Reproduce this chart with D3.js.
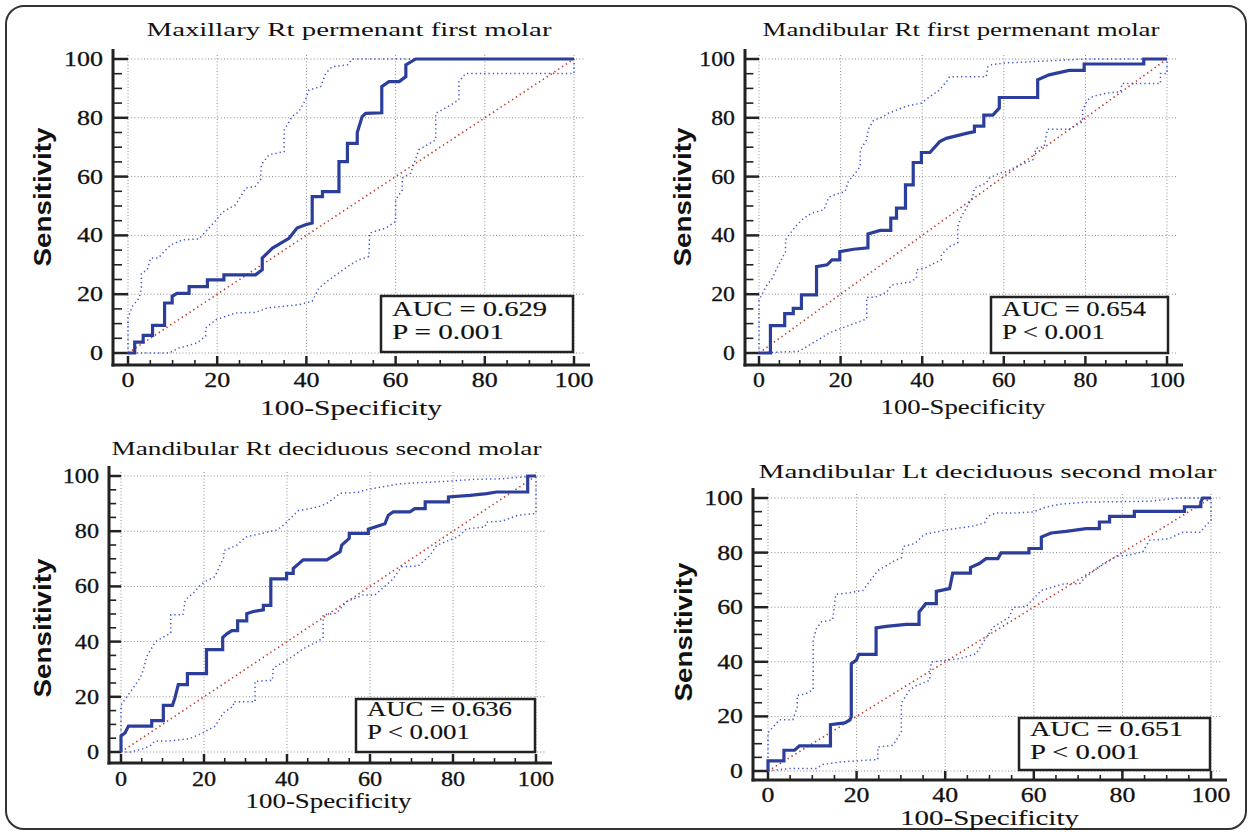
<!DOCTYPE html>
<html>
<head>
<meta charset="utf-8">
<script src="https://cdn.jsdelivr.net/npm/d3@7"></script>
<style>body{margin:0;background:#fff}</style>
</head>
<body>
<svg id="fig" width="1249" height="832"></svg>
<script>
// values (x = 100-Specificity, y = Sensitivity)
const ticks = [0, 20, 40, 60, 80, 100];
const titles = [
  "Maxillary Rt permenant first molar",
  "Mandibular Rt first permenant molar",
  "Mandibular Rt deciduous second molar",
  "Mandibular Lt deciduous second molar"
];
const aucLabels = ["AUC = 0.629", "AUC = 0.654", "AUC = 0.636", "AUC = 0.651"];
const pLabels = ["P = 0.001", "P < 0.001", "P < 0.001", "P < 0.001"];

const roc1 = [[0,0],[1.5,0],[1.5,3.7],[3.4,3.7],[3.4,6],[5.5,6],[5.5,9.4],[8.2,9.4],[8.2,17],[9.9,17],[9.9,19.3],[11,20.3],[13.7,20.3],[13.7,22.6],[17.8,22.6],[17.8,24.9],[21.5,24.9],[21.5,26.6],[28.6,26.6],[30.1,28.3],[30.1,32.3],[32.4,35.7],[36.1,39],[37.9,42.5],[39.8,43.6],[41.3,44.2],[41.3,53.2],[43.6,53.2],[43.6,54.9],[47.3,54.9],[47.3,65.1],[49.2,65.1],[49.2,71.3],[51.4,71.3],[51.4,75],[52.5,80.4],[53.3,81.5],[56.9,81.7],[56.9,90.6],[58.5,92.3],[60.8,92.3],[62.3,94],[62.3,98],[64.5,100],[100,100]];
const upper1 = [[0,0],[0,12],[1,15.9],[2.5,18.7],[3,22],[3,27],[4.3,28.3],[5.1,32.3],[6.8,32.3],[8.1,34.5],[9.6,36.8],[12.2,38.5],[15.9,38.8],[19.3,44.4],[21.2,47.9],[24.1,50.4],[26.4,56.1],[28.5,56.6],[29.7,58.9],[29.9,64],[31.6,67.4],[35,68.5],[35,75.8],[36.8,80.4],[38.3,82.1],[39.8,86.1],[40.6,89.5],[43.2,90.6],[44.3,95.1],[45.8,97.4],[49.2,98],[50.3,100],[100,100]];
const lower1 = [[0,0],[9.2,0],[11.4,1.7],[15.5,3.4],[17.4,5.7],[17.4,8.5],[19.7,11.3],[24.1,13.6],[28.6,13.8],[31.2,15.3],[38.3,16.4],[41.3,17.6],[42.8,22.1],[45.1,24.9],[48.8,28.9],[51.4,31.5],[54,32.8],[54.2,40.8],[57.8,42.5],[60,44.7],[60,52.1],[61.5,55.5],[61.5,59.5],[63.4,61.2],[65.2,69.1],[67.1,70.8],[69,72.5],[69,81.5],[72.4,84.4],[74.2,86.1],[74.2,92.3],[75.7,95.1],[100,95.1],[100,100]];

const roc2 = [[0,0],[2.8,0],[2.8,9.3],[6.3,9.3],[6.3,13.4],[8.4,13.4],[8.4,15.2],[10.4,15.2],[10.4,19.8],[14.1,19.8],[14.1,29.4],[16.7,30],[17.9,31.7],[19.8,31.7],[19.8,34.5],[23.2,35.3],[26.7,35.8],[26.7,40.5],[29.7,41.7],[32.3,41.7],[32.3,45.9],[33.7,45.9],[33.7,49.3],[35.9,49.3],[35.9,57.2],[37.8,57.2],[37.8,64.8],[39.8,64.8],[39.8,68.2],[41.9,68.2],[44.3,71.9],[45.9,73],[50.8,74.7],[52.8,75.3],[52.8,77.2],[55.1,77.2],[55.1,80.9],[57.3,80.9],[58.9,83.3],[58.9,86.9],[68.3,86.9],[68.3,92.9],[71.1,94.6],[76,96.1],[79.7,96.1],[79.7,98.3],[94.3,98.3],[94.3,100],[100,100]];
const upper2 = [[0,0],[0,18],[2,23.2],[3.3,25.5],[4.2,28.3],[6.5,34.5],[6.5,38.5],[8.9,43],[11,45.9],[13,47.6],[15.9,48.7],[17.1,53],[19.1,54.1],[21.1,54.9],[21.9,58.3],[23.6,61.2],[24.8,63.4],[24.8,69.1],[26.4,72.5],[26.8,76.1],[28.1,79.2],[30.5,80.4],[31.3,81.3],[36.2,84],[39.8,85],[41.9,87.2],[44.3,89.5],[46.3,92.9],[46.7,94],[55.7,94],[56.1,97.4],[56.9,98],[59.8,98.6],[80,100],[100,100]];
const lower2 = [[0,0],[9.8,0.6],[17.5,7],[26.4,11.6],[26.4,19],[28.5,19],[31.3,20.7],[32.5,23.2],[37,24.1],[38.6,25.5],[38.6,28.3],[40.6,28.9],[44.7,31.7],[44.7,33.4],[46.7,36.2],[48.7,37.4],[48.7,43],[49.6,46.4],[50.8,49.3],[52.4,53.2],[52.8,56.1],[55.7,57.8],[56.5,59.5],[59,61.2],[61,61.8],[63,63.4],[67.1,65.7],[67.9,69.6],[69.9,70.2],[70.7,76.1],[76,76.1],[79.3,78.7],[79.3,82.6],[80.5,86.1],[82.1,87.4],[84.9,88.3],[88.6,88.9],[89,91.7],[98.4,91.7],[98.4,95.1],[100,95.1],[100,100]];

const roc3 = [[0,0],[0,5.8],[1,7],[1.8,9.4],[7.4,9.4],[7.4,11.4],[10.2,11.4],[10.2,16.9],[12.4,16.9],[13,19.6],[13.8,24.4],[16,24.4],[16,28.4],[20.6,28.4],[20.6,37.1],[24.5,37.1],[24.5,41.5],[25.5,42.8],[26.7,44],[28.1,44],[28.1,47.5],[30.3,47.5],[30.3,50.1],[31.9,50.9],[34.3,51.5],[34.3,53.1],[36.1,53.1],[36.1,62.7],[39.9,62.7],[39.9,64.7],[41.5,64.7],[41.5,66.5],[43.9,69.6],[49.6,69.6],[52.8,72.6],[53.2,75],[55,77.4],[55,79.2],[59.6,79.2],[59.6,80.7],[63.6,82.7],[64.4,85.8],[65.6,87],[69.6,87],[70.8,88.2],[73.3,88.2],[73.3,90.6],[78.9,90.6],[78.9,92.4],[84.1,93],[88.1,93.6],[90.5,94.2],[98,94.2],[98,100],[100,100]];
const upper3 = [[0,0],[0,17],[4.6,26.8],[5.4,29.8],[6.2,34.7],[8.4,40.1],[12,43.1],[12,49.7],[14.9,49.7],[15.5,55.1],[17.8,58.1],[19,60.2],[20.2,61.7],[22.6,63.5],[24.8,70.6],[24.8,73],[27.9,74.9],[30,77.9],[37.5,80.4],[38.7,81.6],[42.7,87.4],[47.5,88.8],[49.9,90.3],[52.8,93.7],[57.6,94.2],[58.4,94.8],[67.2,97.2],[78.5,98.1],[85.3,98.8],[91.7,99],[100,100]];
const lower3 = [[0,0],[2.2,0],[5,1],[7,2.2],[8.2,4],[11.4,4],[16.5,4.8],[19.8,7],[22.7,9.4],[24.7,14.2],[27.1,16.6],[27.1,18.2],[32.3,18.2],[32.3,25.6],[36.5,26],[36.7,30.4],[40.7,34],[44.3,37.7],[46.7,39.5],[48.7,41.3],[48.7,49.7],[51.9,50.3],[54.4,54.5],[58.4,56.9],[61.2,56.9],[65.5,62.6],[67.6,67.1],[71.6,67.4],[74.5,71.3],[76.1,74.9],[81.3,78.1],[83.3,80.9],[87.7,81.5],[88.1,83.3],[91.7,83.6],[95.7,85.8],[100,86.4],[100,100]];

const roc4 = [[0,0],[0,3.7],[3.6,3.7],[3.6,7.6],[6,7.6],[7.1,9.2],[14.1,9.2],[14.1,17],[17.3,17.6],[18.4,18.6],[18.8,19.8],[18.8,39.3],[19.9,40.5],[20.5,42.7],[24.4,42.7],[24.4,52.4],[26.7,53],[31.2,53.7],[34.1,53.7],[34.1,58.2],[35.6,61.3],[38,61.3],[38,65.8],[41,66.8],[41.7,72.5],[45.7,72.5],[45.7,74.5],[47.7,76],[49.2,77.8],[51.9,77.8],[52.6,79.9],[58.9,79.9],[58.9,81.5],[61.7,81.5],[61.7,85.7],[63.9,87.2],[67.3,87.8],[71.8,88.8],[74.8,88.8],[74.8,91.2],[77.1,91.2],[77.1,93.3],[82.7,93.3],[82.7,95.1],[94,95.1],[94,96.8],[97.7,96.8],[97.7,98.5],[98.1,100],[100,100]];
const upper4 = [[0,0],[0,14],[0.8,15.5],[2.6,18.8],[5.6,18.8],[6.6,23.2],[6.6,27.7],[8.6,28.3],[10.2,29.8],[10.2,47.9],[10.9,52.1],[12,54.6],[14.6,55.4],[15.3,64.7],[18.1,65.2],[21.4,66.1],[24.8,73.4],[28.3,76.8],[30.1,78.1],[30.5,82.3],[33.1,83.3],[35.3,86.7],[38,87.5],[39.8,88.2],[46.2,89.7],[48.9,90.9],[49.6,93.3],[51.5,94.5],[55.3,94.5],[59.8,94.9],[62.8,96.7],[65.8,97.7],[71.8,98.5],[86.1,98.8],[92.5,100],[100,100]];
const lower4 = [[0,0],[0.8,0.2],[4.9,0.9],[10.9,0.9],[12.4,2.4],[16.2,3.3],[24.8,4.2],[24.8,8.8],[28.2,9.4],[30.1,14.3],[30.1,24.9],[31.9,29.5],[33.1,31],[36.5,33.2],[36.8,39.9],[39.5,40.5],[43.2,41.1],[47,43],[50.8,52.7],[54.5,56.4],[55.3,59.9],[58.3,60.3],[61.7,66.2],[63.9,67.2],[66.9,68.6],[70.3,68.6],[71.8,71.1],[75.6,75.9],[78.6,78.6],[81.2,79],[84.6,80.3],[86.1,84.5],[90.6,85.1],[93.6,87.5],[97.7,87.5],[98.5,89.4],[100,91.8],[100,100]];

const rocs = [roc1, roc2, roc3, roc4];
const uppers = [upper1, upper2, upper3, upper4];
const lowers = [lower1, lower2, lower3, lower4];

// pixel layout of each panel
const layouts = [
  {x0: 128, x1: 574, y0: 353, y1: 59, axX: 113, axY: 365, titleY: 36, titleW: 405, xlabY: 415, xlabW: 182, sensX: 51, sensY: 197, box: [381, 296, 573, 352], aucY: [316, 339], aucW: [155, 112], tickY: 387, fs: 20},
  {x0: 759, x1: 1167, y0: 353, y1: 59, axX: 745, axY: 365, titleY: 36, titleW: 397, xlabY: 414, xlabW: 165, sensX: 691, sensY: 197, box: [991, 297, 1168, 353], aucY: [316, 339], aucW: [144, 103], tickY: 387, fs: 19},
  {x0: 121, x1: 536, y0: 752, y1: 476, axX: 109, axY: 763, titleY: 455, titleW: 430, xlabY: 808, xlabW: 166, sensX: 51, sensY: 628, box: [356, 699, 535, 752], aucY: [716, 739], aucW: [145, 103], tickY: 786, fs: 19},
  {x0: 768, x1: 1211, y0: 771, y1: 498, axX: 753, axY: 780, titleY: 478, titleW: 458, xlabY: 825, xlabW: 179, sensX: 692, sensY: 632, box: [1019, 718, 1210, 770], aucY: [736, 759], aucW: [153, 110], tickY: 802, fs: 20}
];

const serif = "'Liberation Serif','Times New Roman',serif";
const svg = d3.select("#fig");

svg.append("rect")
    .attr("x", 6).attr("y", 6)
    .attr("width", 1240).attr("height", 823)
    .attr("rx", 18)
    .attr("fill", "none")
    .attr("stroke", "#333")
    .attr("stroke-width", 2);

function stext(g, x, y, s, size, anchor, len, weight) {
  const t = g.append("text")
      .attr("x", x).attr("y", y)
      .attr("font-family", serif)
      .attr("font-size", size)
      .attr("text-anchor", anchor)
      .attr("fill", "#111")
      .text(s);
  if (weight) t.attr("stroke", "#111").attr("stroke-width", weight);
  if (len) t.attr("textLength", len).attr("lengthAdjust", "spacingAndGlyphs");
  return t;
}

layouts.forEach((L, i) => {
  const g = svg.append("g");
  const x = d3.scaleLinear().domain([0, 100]).range([L.x0, L.x1]);
  const y = d3.scaleLinear().domain([0, 100]).range([L.y0, L.y1]);
  const k = (L.x1 - L.x0) / 446;
  const minor = d3.range(0, 101, 5);

  // dotted grid
  g.selectAll(".gx").data(ticks).join("line")
      .attr("x1", d => x(d)).attr("x2", d => x(d))
      .attr("y1", L.y1 - 4).attr("y2", L.y0 + 4)
      .attr("stroke", "#8c8c8c").attr("stroke-width", 1).attr("stroke-dasharray", "1,2.2");
  g.selectAll(".gy").data(ticks).join("line")
      .attr("y1", d => y(d)).attr("y2", d => y(d))
      .attr("x1", L.x0).attr("x2", L.x1 + 10)
      .attr("stroke", "#8c8c8c").attr("stroke-width", 1).attr("stroke-dasharray", "1,2.2");

  // axes
  g.append("line").attr("x1", L.axX).attr("x2", L.axX).attr("y1", L.axY + 1.5).attr("y2", L.y1 - 10)
      .attr("stroke", "#222").attr("stroke-width", 3);
  g.append("line").attr("x1", L.axX - 1.5).attr("x2", L.x1 + 16).attr("y1", L.axY).attr("y2", L.axY)
      .attr("stroke", "#222").attr("stroke-width", 3);
  const yLen = L.x0 - L.axX;
  g.selectAll(".ty").data(minor).join("line")
      .attr("x1", L.axX).attr("x2", d => L.axX + (d % 20 === 0 ? yLen : yLen * 0.6))
      .attr("y1", d => y(d)).attr("y2", d => y(d))
      .attr("stroke", "#222").attr("stroke-width", d => d % 20 === 0 ? 2.5 : 1.6);
  g.selectAll(".tx").data(minor).join("line")
      .attr("y1", L.axY).attr("y2", d => L.axY - (d % 20 === 0 ? 9 : 5))
      .attr("x1", d => x(d)).attr("x2", d => x(d))
      .attr("stroke", "#222").attr("stroke-width", d => d % 20 === 0 ? 2.5 : 1.6);

  ticks.forEach(t => {
    const s = String(t);
    stext(g, x(t), L.tickY, s, L.fs + 1, "middle", s.length * 13 * k, 0.3);
    stext(g, L.axX - 10, y(t) + 7, s, L.fs + 1, "end", s.length * 13 * k, 0.3);
  });

  // curves
  const line = d3.line().x(d => x(d[0])).y(d => y(d[1]));
  g.append("path").datum([[0, 0], [100, 100]]).attr("d", line)
      .attr("fill", "none").attr("stroke", "#c0392b").attr("stroke-width", 1.6)
      .attr("stroke-dasharray", "1.4,3.2");
  [uppers[i], lowers[i]].forEach(band => {
    g.append("path").datum(band).attr("d", line)
        .attr("fill", "none").attr("stroke", "#4055d0").attr("stroke-width", 1.5)
        .attr("stroke-dasharray", "1.3,3");
  });
  g.append("path").datum(rocs[i]).attr("d", line)
      .attr("fill", "none").attr("stroke", "#2c3e9c").attr("stroke-width", 3.2)
      .attr("stroke-linejoin", "miter");

  // AUC box
  const [bx0, by0, bx1, by1] = L.box;
  g.append("rect").attr("x", bx0).attr("y", by0).attr("width", bx1 - bx0).attr("height", by1 - by0)
      .attr("fill", "#fff").attr("stroke", "#222").attr("stroke-width", 2.5);
  stext(g, bx0 + 11, L.aucY[0], aucLabels[i], 20, "start", L.aucW[0], 0.15);
  stext(g, bx0 + 11, L.aucY[1], pLabels[i], 20, "start", L.aucW[1], 0.15);

  // titles and axis labels
  const cx = (L.x0 + L.x1) / 2;
  stext(g, cx - 2, L.titleY, titles[i], 19, "middle", L.titleW);
  stext(g, cx, L.xlabY, "100-Specificity", 20, "middle", L.xlabW, 0.1);
  g.append("text")
      .attr("transform", `translate(${L.sensX},${L.sensY}) rotate(-90)`)
      .attr("text-anchor", "middle")
      .attr("font-family", "'Liberation Sans',Arial,sans-serif")
      .attr("font-weight", "bold")
      .attr("font-size", 23)
      .attr("textLength", 139)
      .attr("lengthAdjust", "spacingAndGlyphs")
      .attr("fill", "#111")
      .text("Sensitivity");
});
</script>
</body>
</html>
